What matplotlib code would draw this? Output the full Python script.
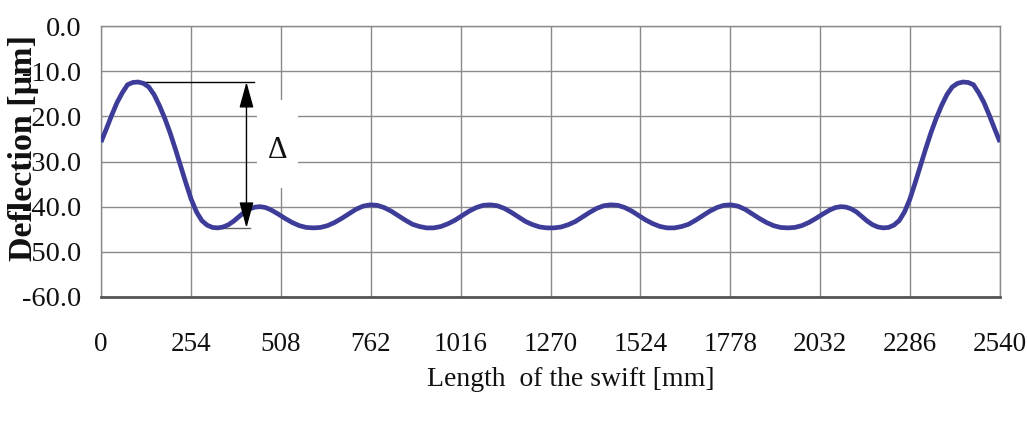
import matplotlib
matplotlib.use('Agg')
import matplotlib.pyplot as plt
from matplotlib.patches import Rectangle

plt.rcParams['font.family'] = ['Liberation Serif', 'DejaVu Serif']
plt.rcParams['axes.unicode_minus'] = False

# ============================================================
# data
# ============================================================
length_mm = [
    0, 15, 30, 45, 60, 75, 90, 105, 120, 135, 150, 165, 180, 195, 210, 225,
    240, 255, 270, 285, 300, 315, 330, 345, 360, 375, 390, 405, 420, 435, 450,
    465, 480, 500, 520, 540, 560, 580, 600, 620, 640, 660, 680, 700, 720, 740,
    760, 780, 800, 820, 840, 860, 880, 900, 920, 940, 960, 980, 1000, 1020,
    1040, 1060, 1080, 1100, 1120, 1140, 1160, 1180, 1200, 1220, 1240, 1260,
    1280, 1300, 1320, 1340, 1360, 1380, 1400, 1420, 1440, 1460, 1480, 1500,
    1520, 1540, 1560, 1580, 1600, 1620, 1640, 1660, 1680, 1700, 1720, 1740,
    1760, 1780, 1800, 1820, 1840, 1860, 1880, 1900, 1920, 1940, 1960, 1980,
    2000, 2020, 2040, 2060, 2075, 2090, 2105, 2120, 2135, 2150, 2165, 2180,
    2195, 2210, 2225, 2240, 2255, 2270, 2285, 2300, 2315, 2330, 2345, 2360,
    2375, 2390, 2405, 2420, 2435, 2450, 2465, 2480, 2495, 2510, 2525, 2540,
]
deflection_um = [
    -25.7, -22.8, -19.8, -17.0, -14.8, -13.0, -12.5, -12.4, -12.7, -13.5,
    -15.2, -17.6, -20.4, -23.6, -27.2, -31.0, -34.8, -38.4, -41.2, -43.1,
    -44.1, -44.6, -44.7, -44.5, -44.0, -43.2, -42.2, -41.2, -40.5, -40.1,
    -40.0, -40.2, -40.7, -41.6, -42.6, -43.5, -44.2, -44.6, -44.7, -44.6,
    -44.2, -43.5, -42.6, -41.6, -40.6, -39.9, -39.6, -39.7, -40.2, -41.0,
    -42.0, -43.0, -43.9, -44.4, -44.7, -44.7, -44.4, -43.8, -43.0, -42.0,
    -41.0, -40.2, -39.7, -39.6, -39.8, -40.4, -41.3, -42.3, -43.3, -44.0,
    -44.5, -44.7, -44.7, -44.5, -44.0, -43.3, -42.3, -41.3, -40.4, -39.8,
    -39.6, -39.7, -40.2, -41.0, -42.0, -43.0, -43.8, -44.4, -44.7, -44.7,
    -44.4, -43.9, -43.0, -42.0, -41.0, -40.2, -39.7, -39.6, -39.9, -40.6,
    -41.6, -42.6, -43.5, -44.2, -44.6, -44.7, -44.6, -44.2, -43.5, -42.6,
    -41.6, -40.7, -40.2, -40.0, -40.1, -40.5, -41.2, -42.2, -43.2, -44.0,
    -44.5, -44.7, -44.6, -44.1, -43.1, -41.2, -38.4, -34.8, -31.0, -27.2,
    -23.6, -20.4, -17.6, -15.2, -13.5, -12.7, -12.4, -12.5, -13.0, -14.8,
    -17.0, -19.8, -22.8, -25.7,
]

x_ticks = [0, 254, 508, 762, 1016, 1270, 1524, 1778, 2032, 2286, 2540]
y_ticks = [0, -10, -20, -30, -40, -50, -60]
y_tick_labels = ['0.0', '-10.0', '-20.0', '-30.0', '-40.0', '-50.0', '-60.0']

arrow_x = 411          # position of the Δ arrow [mm]
delta_x = 500          # Δ label position [mm]
delta_box = (441, 557, -35.9, -16.4)  # white patch behind Δ (x0, x1, y0, y1)

# ============================================================
# plot
# ============================================================
W, H = 1027, 421
fig = plt.figure(figsize=(W / 100, H / 100), dpi=100)
ax = fig.add_axes([101 / W, 1 - 297 / H, 899 / W, 271 / H])

ax.plot(length_mm, deflection_um, color='#3d3d99', linewidth=3.4,
        solid_capstyle='butt', zorder=4)

ax.set_xlim(0, 2540)
ax.set_ylim(-60, 0)
ax.set_xticks(x_ticks)
ax.set_xticklabels([str(v) for v in x_ticks])
ax.set_yticks(y_ticks)
ax.set_yticklabels(y_tick_labels)
ax.tick_params(axis='both', length=0, colors='#111111')
ax.tick_params(axis='x', pad=25, labelsize=19.5)
ax.tick_params(axis='y', pad=14, labelsize=20.5)
ax.grid(True, color='#8a8a8a', linewidth=1.0, zorder=1)
ax.set_axisbelow(True)

for side in ['top', 'right', 'left']:
    ax.spines[side].set_color('#8a8a8a')
    ax.spines[side].set_linewidth(1.0)
ax.spines['bottom'].set_color('#555555')
ax.spines['bottom'].set_linewidth(2.0)

# Δ annotation
y_top = max(deflection_um)
y_bot = min(deflection_um)
x_peak = length_mm[deflection_um.index(y_top)]
x_low = length_mm[deflection_um.index(y_bot)]

ax.add_patch(Rectangle((delta_box[0], delta_box[2]),
                       delta_box[1] - delta_box[0], delta_box[3] - delta_box[2],
                       facecolor='white', edgecolor='none', zorder=2))
ax.plot([x_peak - 20, arrow_x + 20], [y_top, y_top], color='black',
        linewidth=1.0, zorder=3)
ax.plot([x_low + 10, arrow_x + 10], [y_bot, y_bot], color='#666666',
        linewidth=1.0, zorder=3)
ax.annotate('', xy=(arrow_x, y_top), xytext=(arrow_x, y_bot),
            arrowprops=dict(arrowstyle='<|-|>,head_length=0.8,head_width=0.22',
                            color='black', lw=1.0,
                            mutation_scale=20, shrinkA=0, shrinkB=0),
            zorder=5)
ax.text(delta_x, (y_top + y_bot) / 2 + 1, 'Δ', fontsize=22, ha='center',
        va='center', color='#111111', zorder=5)

# axis labels
fig.text(24 / W, 1 - 148 / H, 'Deflection [µm]', rotation=90, ha='center',
         va='center', fontsize=24.5, fontweight='bold', color='#111111')
fig.text(571 / W, 1 - 379 / H, 'Length  of the swift [mm]', ha='center',
         va='center', fontsize=20, color='#111111')

plt.savefig('out.png', dpi=100)
